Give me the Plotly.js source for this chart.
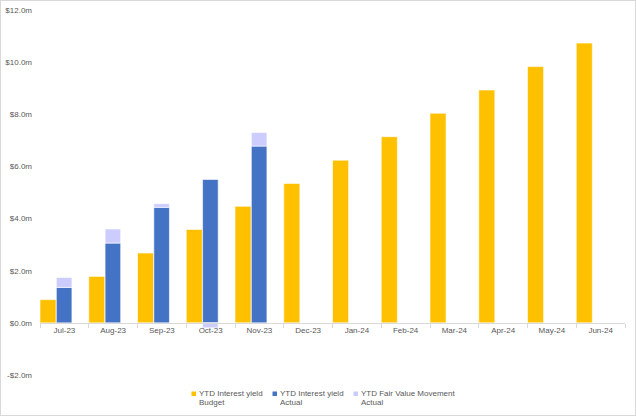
<!DOCTYPE html>
<html>
<head>
<meta charset="utf-8">
<script src="https://cdn.plot.ly/plotly-3.0.1.min.js"></script>
<style>
html,body{margin:0;padding:0;background:#fff;}
#chart{width:634px;height:414px;border:1px solid #d9d9d9;}
</style>
</head>
<body>
<div id="chart"></div>
<script>
var months = ["Jul-23","Aug-23","Sep-23","Oct-23","Nov-23","Dec-23","Jan-24","Feb-24","Mar-24","Apr-24","May-24","Jun-24"];
var budget = [0.89, 1.78, 2.68, 3.58, 4.47, 5.35, 6.24, 7.14, 8.04, 8.93, 9.83, 10.73];
var actual = [1.36, 3.06, 4.43, 5.50, 6.78, null, null, null, null, null, null, null];
var fairValue = [0.38, 0.54, 0.14, -0.19, 0.52, null, null, null, null, null, null, null];
var yTickVals = [-2, 0, 2, 4, 6, 8, 10, 12];
var yTickText = ["-$2.0m", "$0.0m", "$2.0m", "$4.0m", "$6.0m", "$8.0m", "$10.0m", "$12.0m"];
var seriesNames = [["YTD Interest yield", "Budget"], ["YTD Interest yield", "Actual"], ["YTD Fair Value Movement", "Actual"]];
var seriesColors = ["#FFC000", "#4472C4", "#CCCCFF"];

// Fair value movement stacks on top of actual when positive, below zero when negative
var fvBase = fairValue.map(function (v, i) {
  if (v === null) return null;
  return v >= 0 ? actual[i] : 0;
});

var FONT = "Liberation Sans, Arial, sans-serif";
var FS = 8;
var lineStyle = {color: "rgba(255,255,255,0.6)", width: 1};

var traces = [
  {
    type: "bar", name: seriesNames[0].join(" "),
    x: months, y: budget,
    offset: -0.5, width: 0.33,
    marker: {color: seriesColors[0], line: lineStyle}
  },
  {
    type: "bar", name: seriesNames[1].join(" "),
    x: months, y: actual,
    offset: -0.165, width: 0.32,
    marker: {color: seriesColors[1], line: lineStyle}
  },
  {
    type: "bar", name: seriesNames[2].join(" "),
    x: months, y: fairValue, base: fvBase,
    offset: -0.165, width: 0.32,
    marker: {color: seriesColors[2], line: lineStyle}
  }
];

// plot area in page pixels: x 40..625, y 10..375
function px2x(px) { return (px - 40) / 585; }
function px2y(py) { return (375 - py) / 365; }

var legendX = [191.5, 272.5, 353.5];
var shapes = [], annotations = [];
seriesNames.forEach(function (nm, i) {
  shapes.push({
    type: "rect", xref: "paper", yref: "paper",
    x0: px2x(legendX[i]), x1: px2x(legendX[i] + 4.5),
    y0: px2y(396), y1: px2y(391.5),
    fillcolor: seriesColors[i], line: {width: 0}
  });
  annotations.push({
    xref: "paper", yref: "paper", x: px2x(legendX[i] + 5.5), y: px2y(393),
    xanchor: "left", yanchor: "middle", showarrow: false, text: nm[0],
    font: {family: FONT, size: FS, color: "#595959"}
  });
  annotations.push({
    xref: "paper", yref: "paper", x: px2x(legendX[i] + 5.5), y: px2y(402.5),
    xanchor: "left", yanchor: "middle", showarrow: false, text: nm[1],
    font: {family: FONT, size: FS, color: "#595959"}
  });
});

var layout = {
  width: 634, height: 414,
  margin: {l: 39, r: 10, t: 9, b: 40, autoexpand: false},
  paper_bgcolor: "#ffffff", plot_bgcolor: "#ffffff",
  barmode: "overlay",
  font: {family: FONT, size: FS, color: "#595959"},
  showlegend: false,
  shapes: shapes,
  annotations: annotations,
  xaxis: {
    type: "category",
    anchor: "free", position: 2 / 14,
    showline: true, linecolor: "#d9d9d9", linewidth: 1,
    ticks: "outside", tickson: "boundaries", ticklen: 4, tickcolor: "#d9d9d9",
    showgrid: false, zeroline: false,
    tickfont: {family: FONT, size: FS, color: "#595959"},
    fixedrange: true
  },
  yaxis: {
    range: [-2, 12],
    tickvals: yTickVals, ticktext: yTickText,
    showline: false, showgrid: false, zeroline: false,
    ticks: "", ticklabelstandoff: 7,
    tickfont: {family: FONT, size: FS, color: "#595959"},
    fixedrange: true
  }
};

Plotly.newPlot("chart", traces, layout, {displayModeBar: false, staticPlot: true});
</script>
</body>
</html>
